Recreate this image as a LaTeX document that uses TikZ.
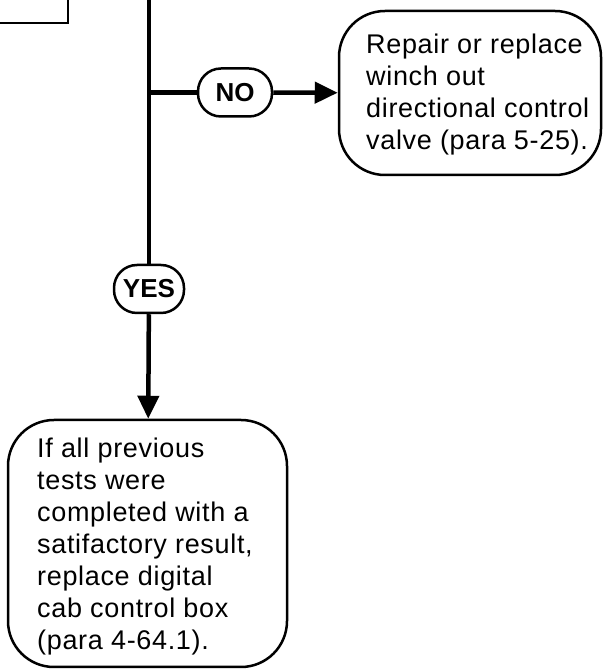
\documentclass[tikz,border=0pt]{standalone}
\usepackage{fontspec}
\usepackage{tikz}
\usetikzlibrary{positioning,arrows.meta}
\newfontfamily\flowfont{Liberation Sans}[LetterSpace=2.5]
\newfontfamily\answerfont{Liberation Sans}

\begin{document}
\begin{tikzpicture}[x=1pt, y=1pt,
  flow/.style={line width=4.5pt},
  arr/.style={flow, -{Triangle[length=23pt,width=21pt]}},
  answer/.style={draw, line width=2.5pt, rounded corners=23pt, fill=white,
    inner sep=0pt, minimum height=48pt,
    font=\answerfont\fontsize{26}{30}\selectfont\bfseries},
  stepbox/.style={draw, line width=2.5pt, rounded corners=46pt, fill=white},
  steptext/.style={anchor=north west, align=left, inner sep=0pt,
    font=\flowfont\fontsize{27}{32}\selectfont}
]
\useasboundingbox (0,0) rectangle (604,669);

% --- previous step (only its corner is visible) ---
\coordinate (prevbl) at (0,646);
\coordinate (prevtr) at (68,669);
\draw[line width=2pt] (prevbl) -| (prevtr);

% --- boxes ---
\node[stepbox, minimum width=262pt, minimum height=164pt] (valve) at (470,576) {};
\node[steptext] (valvetxt) at (366,635.5)
  {Repair or replace\\winch out\\directional control\\valve (para 5-25).};

\node[stepbox, minimum width=279pt, minimum height=247pt] (cabbox) at (147.5,125.5) {};
\node[steptext] (cabtxt) at (37,231.5)
  {If all previous\\tests were\\completed with a\\satifactory result,\\replace digital\\cab control box\\(para 4-64.1).};

% --- answers ---
\node[answer, minimum width=74pt] (no) at (235,576.5) {NO};
\node[answer, minimum width=70pt] (yes) at (149,380) {YES};

% --- flow lines ---
\coordinate (top) at (149,669);
\coordinate (split) at (149,576.5);
\draw[flow] (top) -- (yes);
\draw[flow] (split) -- (no);
\draw[arr] (no) -- (valve);
\draw[arr] (yes) -- (cabbox);

\end{tikzpicture}
\end{document}
